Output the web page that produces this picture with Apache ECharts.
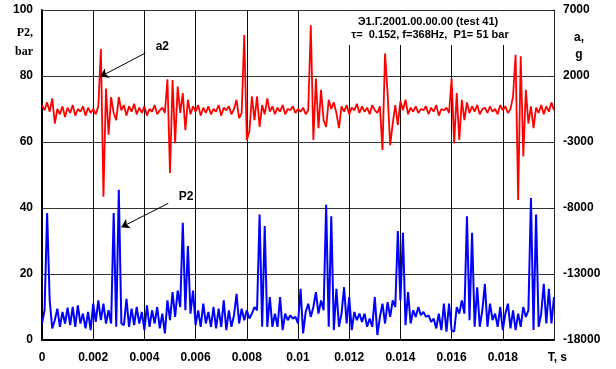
<!DOCTYPE html>
<html>
<head>
<meta charset="utf-8">
<script src="https://cdn.jsdelivr.net/npm/echarts@6/dist/echarts.min.js"></script>
<style>
html,body{margin:0;padding:0;background:#fff;}
#chart{width:616px;height:369px;}
</style>
</head>
<body>
<div id="chart"></div>
<script>
// time step of the samples (s)
var timeStep = 0.0001;

// P2, bar (left axis) - blue
var p2Values = [
5,9,38.5,12,3.5,6,9.5,4,8.5,5,
9.8,4.5,10,4,10.5,5,8,3.5,8.5,3,
11,5.5,12,6,11,5,9,5,38.5,4,
45.5,5,4.5,12.5,4,9.5,4.5,10,5,8.5,
3,10.5,4,9,5,10,3.5,8,2,12,
6,14.5,7,15,10,35.5,9,28.5,8,15,
4.5,9,4,11,5,8.5,4,10,3.5,9.5,
4,12,3,9,4,7.5,14,5,9.5,6,
9,6.5,8,10,9,38,4,34.5,4,13,
4,8,4,13,3,8,6,7.5,6.5,7,
5,15.5,2,8.5,11,7,10,14.5,8,12,
9,41,4,37.5,3,15.5,4,8,16,5,
13,3,8.5,6,8,5.5,8,4,6.5,4,
13,1.5,7,11,5,11.5,7,12,10,33,
12,32.5,4.5,14.5,5,9,7,10,7.5,8.5,
7,7.5,5.5,6.5,3.5,8,3,11,2.5,11,
3,2.5,10,8,12,8,37.5,6,32.5,4,
16,4,9,17,4,11,6,8,4,10,
3,8,11,3.5,9,3,8,4,10,7,
9,43,3,38,4,8,17,5,15.5,5,
13
];

// a2, g (right axis) - red
var a2Values = [
-200,-600,0,-700,300,-1600,-500,-900,-300,-1100,
-400,-800,-200,-1000,-500,-700,-300,-1000,-400,-800,
-500,-900,-300,4050,-7150,1050,-2450,400,-800,-1350,
400,-600,-200,-1000,-300,-700,-100,-900,-400,-800,
-300,-1000,-500,-700,-200,-900,-600,-400,-800,1750,
-5350,1700,-3100,1200,-800,700,-2100,200,-900,-300,
-700,-200,-1000,-400,-800,-300,-900,-500,-700,-200,
-1000,-400,-600,-300,-900,-500,200,-1200,-800,5100,
-2850,-2200,450,-1350,450,-1850,-200,-900,300,-700,
-300,-900,-400,-700,-200,-900,-500,-600,-300,-800,
-500,-700,-400,-900,-600,5850,-2850,1800,-1950,950,
-1350,-1850,200,-500,0,-800,-1950,-300,-700,-200,
-900,-400,-600,-100,-800,-300,-700,-400,-900,-200,
-600,-800,-300,-3600,3700,700,-3250,-1600,-200,-1700,
100,-600,200,-900,-400,-700,-300,-800,-500,-600,
-300,-900,-400,-700,-200,-1000,-500,-600,-400,-800,
1800,-3100,700,-2850,200,-1350,0,-800,-300,-700,
-200,-900,-500,-400,-800,-300,-700,-500,-900,-200,
-600,-300,-800,-500,450,3600,-7400,3500,-4100,950,
-1600,-300,-1950,-400,-800,-200,-900,-300,-700,0,
-600
];

// axis ticks
var xTicks = {min: 0, max: 0.02, interval: 0.002};
var leftTicks = {min: 0, max: 100, interval: 20};
var rightTicks = {min: -18000, max: 7000, interval: 5000};

var titleLine1 = 'Э1.Г.2001.00.00.00 (test 41)';
var titleLine2 = 'τ=  0.152, f=368Hz,  P1= 51 bar';

function pairs(vals) {
  return vals.map(function (v, i) { return [+(i * timeStep).toFixed(5), v]; });
}

var FONT = '"Liberation Sans", Arial, sans-serif';
var chart = echarts.init(document.getElementById('chart'), null, {renderer: 'canvas'});

var option = {
  animation: false,
  backgroundColor: '#fff',
  grid: {left: 42, right: 62, top: 10, bottom: 29, containLabel: false},
  xAxis: {
    type: 'value',
    min: xTicks.min, max: xTicks.max, interval: xTicks.interval,
    axisLine: {show: true, lineStyle: {color: '#000', width: 2}},
    axisTick: {show: false},
    splitLine: {show: true, lineStyle: {color: '#111', width: 1}},
    axisLabel: {
      show: true, margin: 12, color: '#000', fontWeight: 'bold', fontSize: 12, fontFamily: FONT,
      showMaxLabel: true, showMinLabel: true,
      formatter: function (v) {
        if (Math.abs(v - 0.02) < 1e-9) return '  T, s';
        return String(+(+v).toFixed(3));
      }
    }
  },
  yAxis: [
    {
      type: 'value', position: 'left',
      min: leftTicks.min, max: leftTicks.max, interval: leftTicks.interval,
      axisLine: {show: true, lineStyle: {color: '#000', width: 2}},
      axisTick: {show: false},
      splitLine: {show: true, lineStyle: {color: '#333', width: 1}},
      axisLabel: {margin: 9, color: '#000', fontWeight: 'bold', fontSize: 12, fontFamily: FONT}
    },
    {
      type: 'value', position: 'right',
      min: rightTicks.min, max: rightTicks.max, interval: rightTicks.interval,
      axisLine: {show: true, lineStyle: {color: '#222', width: 1}},
      axisTick: {show: true, inside: true, length: 4, lineStyle: {color: '#222'}},
      splitLine: {show: false},
      axisLabel: {
        margin: 9, color: '#000', fontWeight: 'bold', fontSize: 12, fontFamily: FONT,
        formatter: function (v) { return String(Math.round(v)); }
      }
    }
  ],
  graphic: [
    {type: 'rect', z: 1, shape: {x: 300, y: 11, width: 252, height: 34}, style: {fill: '#fff'}, silent: true},
    {type: 'text', z: 5, x: 428, y: 22, style: {text: titleLine1, fill: '#000', font: 'bold 11px ' + FONT, textAlign: 'center', textVerticalAlign: 'middle'}},
    {type: 'text', z: 5, x: 430, y: 35, style: {text: titleLine2, fill: '#000', font: 'bold 11px ' + FONT, textAlign: 'center', textVerticalAlign: 'middle'}},
    {type: 'text', z: 5, x: 33, y: 33, style: {text: 'P2,', fill: '#000', font: 'bold 12px "Liberation Serif", "Times New Roman", serif', textAlign: 'right', textVerticalAlign: 'middle'}},
    {type: 'text', z: 5, x: 33, y: 52, style: {text: 'bar', fill: '#000', font: 'bold 12px "Liberation Serif", "Times New Roman", serif', textAlign: 'right', textVerticalAlign: 'middle'}},
    {type: 'text', z: 5, x: 579, y: 38, style: {text: 'a,', fill: '#000', font: 'bold 12px ' + FONT, textAlign: 'center', textVerticalAlign: 'middle'}},
    {type: 'text', z: 5, x: 579, y: 55, style: {text: 'g', fill: '#000', font: 'bold 12px ' + FONT, textAlign: 'center', textVerticalAlign: 'middle'}}
  ],
  series: [
    {
      name: 'P2', type: 'line', yAxisIndex: 0, z: 3,
      data: pairs(p2Values), showSymbol: false, symbol: 'none',
      lineStyle: {color: '#0000ff', width: 2},
      markLine: {
        silent: true, symbol: ['none', 'arrow'], symbolSize: 8,
        lineStyle: {color: '#000', width: 1, type: 'solid'},
        label: {show: false},
        data: [[{coord: [0.00493, 41.4]}, {coord: [0.0031, 34.2]}]]
      },
      markPoint: {
        silent: true, symbol: 'circle', symbolSize: 1, itemStyle: {color: 'rgba(0,0,0,0)'},
        label: {show: true, position: 'inside', color: '#000', fontWeight: 'bold', fontSize: 12, fontFamily: FONT},
        data: [{coord: [0.00563, 43.4], value: 'P2', label: {formatter: 'P2'}}]
      }
    },
    {
      name: 'a2', type: 'line', yAxisIndex: 1, z: 2,
      data: pairs(a2Values), showSymbol: false, symbol: 'none',
      lineStyle: {color: '#ff0000', width: 1.8},
      markLine: {
        silent: true, symbol: ['none', 'arrow'], symbolSize: 8,
        lineStyle: {color: '#000', width: 1, type: 'solid'},
        label: {show: false},
        data: [[{coord: [0.00404, 3742]}, {coord: [0.002275, 1947]}]]
      },
      markPoint: {
        silent: true, symbol: 'circle', symbolSize: 1, itemStyle: {color: 'rgba(0,0,0,0)'},
        label: {show: true, position: 'inside', color: '#000', fontWeight: 'bold', fontSize: 12, fontFamily: FONT},
        data: [{coord: [0.0047, 4197], value: 'a2', label: {formatter: 'a2'}}]
      }
    }
  ]
};
chart.setOption(option);
</script>
</body>
</html>
